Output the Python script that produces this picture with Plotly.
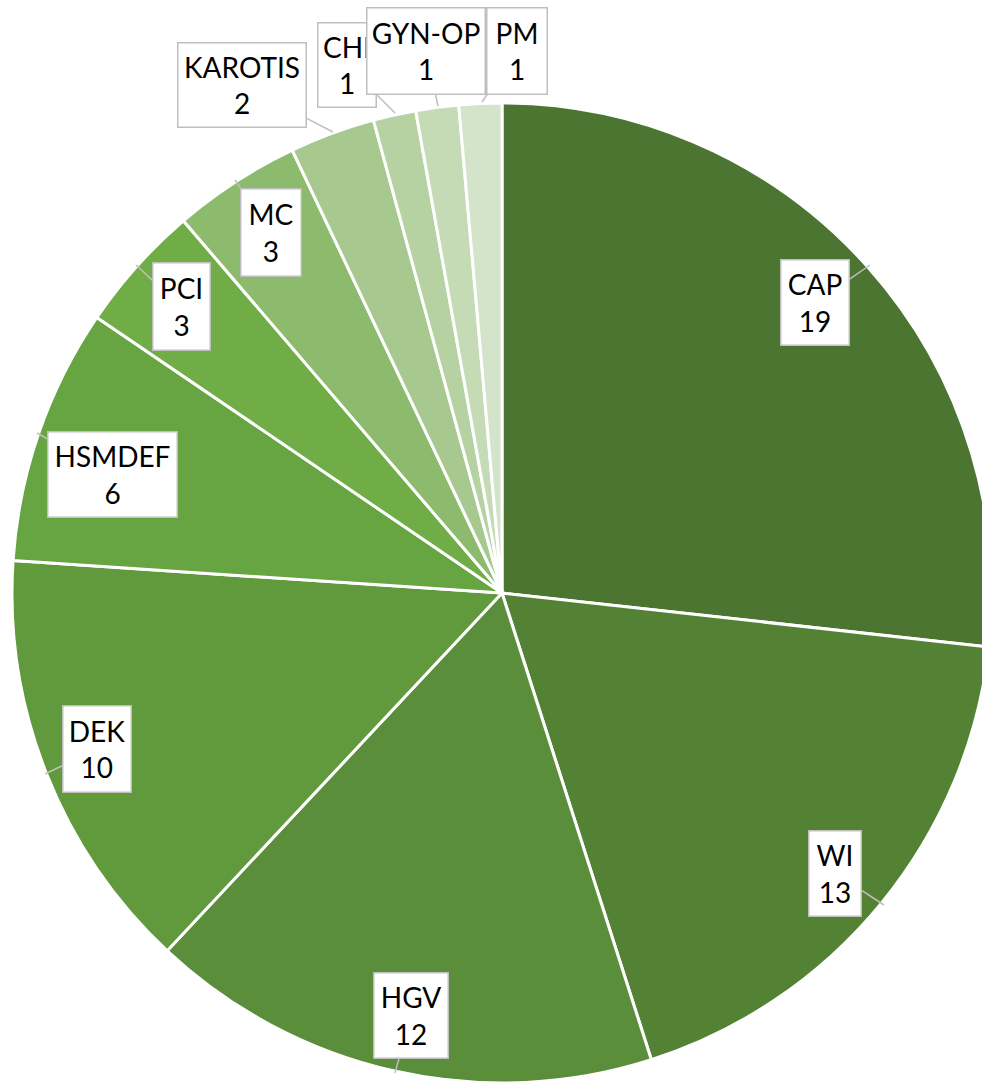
import plotly.graph_objects as go

categories = ["CAP", "WI", "HGV", "DEK", "HSMDEF", "PCI", "MC", "KAROTIS", "CHI", "GYN-OP", "PM"]
values = [19, 13, 12, 10, 6, 3, 3, 2, 1, 1, 1]
colors = ["#4B7530", "#548235", "#5B8E3A", "#61993D", "#67A442", "#70AD47",
          "#8DBB6E", "#A7C98F", "#B6D2A3", "#C5DBB6", "#D4E4CA"]

W, H = 1000, 1186

# label callouts: (category, box center px, tip px, box width px, box height px)
callouts = [
    ("CAP", (815, 303), (870, 265), 70, 87),
    ("WI", (835, 873), (884, 905), 54, 87),
    ("HGV", (411, 1015), (395, 1073), 76, 87),
    ("DEK", (97, 749), (45, 774), 70, 88),
    ("HSMDEF", (112, 475), (37, 433), 131, 87),
    ("PCI", (181, 307), (136, 265), 59, 89),
    ("MC", (271, 232), (235, 180), 62, 89),
    ("KAROTIS", (242, 85), (333, 132), 130, 86),
    ("CHI", (347, 65), (395, 113), 60, 86),
    ("GYN-OP", (426, 51), (438, 106), 120, 88),
    ("PM", (517, 51), (482, 102), 62, 88),
]

fig = go.Figure(go.Pie(
    labels=categories,
    values=values,
    sort=False,
    direction="clockwise",
    rotation=0,
    marker=dict(colors=colors, line=dict(color="white", width=3)),
    textinfo="none",
    hoverinfo="label+value",
    showlegend=False,
    domain=dict(x=[12 / W, 992 / W], y=[0, 1]),
))

val = dict(zip(categories, values))
for name, (cx, cy), (tx, ty), bw, bh in callouts:
    fig.add_annotation(
        x=tx / W, y=1 - ty / H, xref="paper", yref="paper",
        ax=cx - tx, ay=cy - ty, axref="pixel", ayref="pixel",
        text=f"{name}<br>{val[name]}",
        showarrow=True, arrowhead=0, arrowwidth=1.5, arrowcolor="#BFBFBF",
        standoff=0, startstandoff=0,
        bgcolor="white", bordercolor="#BFBFBF", borderwidth=1.5, borderpad=0,
        width=bw - 3, height=bh - 3,
        font=dict(family="Lato, 'Open Sans', sans-serif", size=28, color="black"),
        align="center", valign="middle",
    )

fig.update_layout(
    width=W, height=H,
    margin=dict(l=0, r=0, t=0, b=0),
    paper_bgcolor="white", plot_bgcolor="white",
)

fig.write_html(
    "out.html",
    config={"displayModeBar": False},
    post_script="document.body.style.margin='0';document.body.style.overflow='hidden';document.documentElement.style.overflow='hidden';",
)
